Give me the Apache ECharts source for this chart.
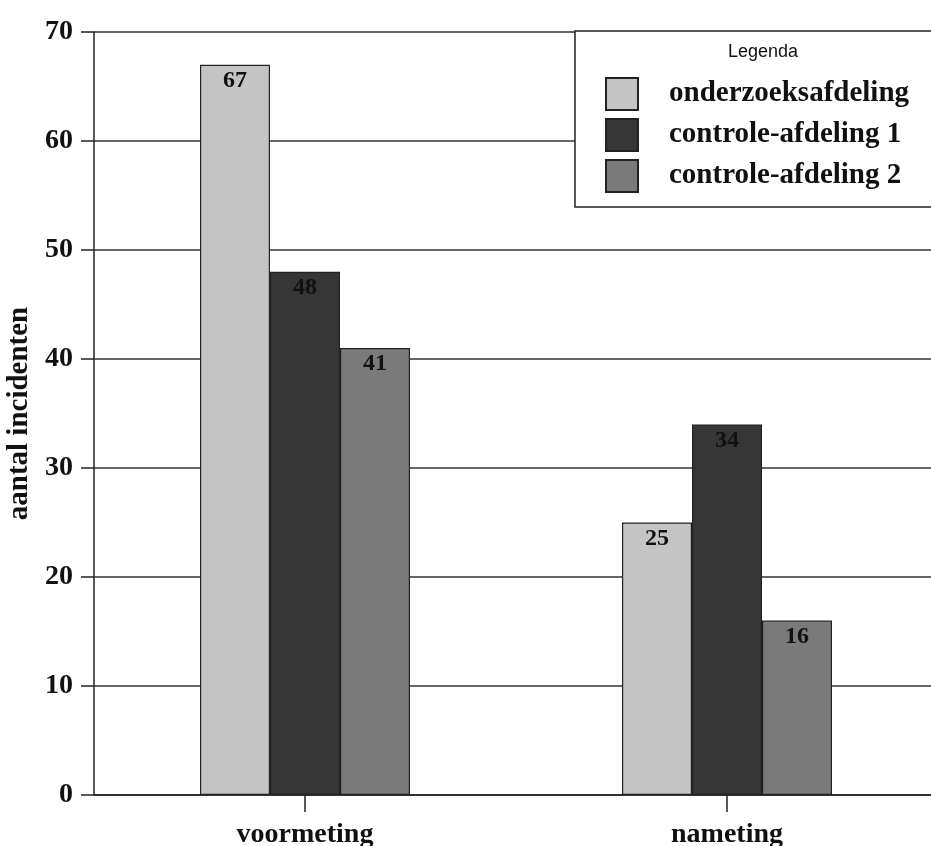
<!DOCTYPE html>
<html>
<head>
<meta charset="utf-8">
<script src="https://cdn.jsdelivr.net/npm/echarts@6/dist/echarts.min.js"></script>
<style>html,body{margin:0;padding:0;background:#fff;}#c{width:931px;height:846px;}</style>
</head>
<body>
<div id="c"></div>
<script>
const categories = ['voormeting', 'nameting'];
const seriesNames = ['onderzoeksafdeling', 'controle-afdeling 1', 'controle-afdeling 2'];
const onderzoeksafdeling = [67, 25];
const controle1 = [48, 34];
const controle2 = [41, 16];
const yTicks = [0, 10, 20, 30, 40, 50, 60, 70];
const yTitle = 'aantal incidenten';
const legendTitle = 'Legenda';

const colors = ['#c4c4c4', '#363636', '#7a7a7a'];
const serif = '"Liberation Serif", "DejaVu Serif", serif';
const values = [onderzoeksafdeling, controle1, controle2];

const chart = echarts.init(document.getElementById('c'), null, {renderer: 'canvas'});
chart.setOption({
  animation: false,
  backgroundColor: '#ffffff',
  title: {
    text: legendTitle,
    left: 758, top: 38, textAlign: 'center',
    textStyle: {fontFamily: '"Liberation Sans", Arial, sans-serif', fontSize: 18, fontWeight: 'normal', color: '#111'}
  },
  legend: {
    data: seriesNames,
    orient: 'vertical',
    left: 575, top: 31,
    backgroundColor: '#ffffff',
    borderColor: '#222', borderWidth: 1.5,
    padding: [46, 80, 14, 30],
    itemWidth: 32, itemHeight: 32, itemGap: 7,
    icon: 'rect',
    textStyle: {fontFamily: serif, fontSize: 29, fontWeight: 'bold', color: '#111', padding: [0, 0, 0, 26]}
  },
  grid: {left: 94, width: 844, top: 32, bottom: 51, containLabel: false, outerBoundsMode: 'none'},
  xAxis: {
    type: 'category',
    data: categories,
    axisLine: {show: true, lineStyle: {color: '#222', width: 1.5}},
    axisTick: {show: true, alignWithLabel: true, length: 17, lineStyle: {color: '#222', width: 1.5}},
    axisLabel: {fontFamily: serif, fontSize: 28, fontWeight: 'bold', color: '#111', margin: 26}
  },
  yAxis: {
    type: 'value',
    min: yTicks[0], max: yTicks[yTicks.length - 1], interval: 10,
    name: yTitle,
    nameLocation: 'middle', nameGap: 57, nameRotate: 90,
    nameTextStyle: {fontFamily: serif, fontSize: 29, fontWeight: 'bold', color: '#111'},
    axisLine: {show: true, lineStyle: {color: '#222', width: 1.5}},
    axisTick: {show: true, inside: false, length: 13, lineStyle: {color: '#222', width: 1.5}},
    axisLabel: {fontFamily: serif, fontSize: 28, fontWeight: 'bold', color: '#111', margin: 21},
    splitLine: {show: true, lineStyle: {color: '#333', width: 1.5}}
  },
  series: seriesNames.map((n, i) => ({
    name: n,
    type: 'bar',
    data: values[i],
    barWidth: 70,
    barGap: '0%',
    itemStyle: {color: colors[i], borderColor: '#222', borderWidth: 1.2},
    label: {show: true, position: 'insideTop', distance: 4, fontFamily: serif, fontSize: 24, fontWeight: 'bold', color: '#111'}
  }))
});
</script>
</body>
</html>
